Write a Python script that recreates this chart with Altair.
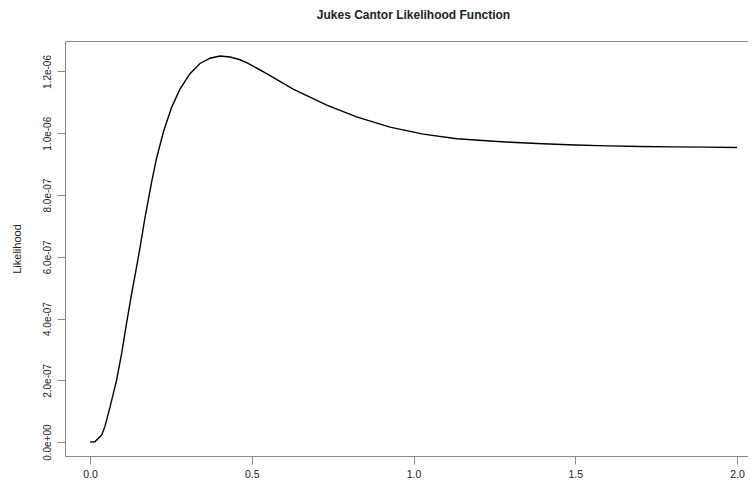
import altair as alt
import pandas as pd

# distance values (x) and likelihood values (in units of 1e-06)
dist = [0.0, 0.015, 0.036, 0.046, 0.062, 0.082, 0.098, 0.113, 0.129, 0.144,
        0.155, 0.170, 0.191, 0.206, 0.227, 0.252, 0.278, 0.309, 0.340, 0.371,
        0.402, 0.433, 0.464, 0.489, 0.546, 0.628, 0.732, 0.824, 0.927, 1.030,
        1.134, 1.236, 1.300, 1.400, 1.500, 1.600, 1.700, 1.800, 1.900, 2.000]
lik_e6 = [0.0, 0.001, 0.023, 0.050, 0.114, 0.200, 0.288, 0.385, 0.482, 0.567,
          0.632, 0.727, 0.845, 0.920, 1.005, 1.083, 1.143, 1.193, 1.226, 1.243,
          1.250, 1.247, 1.238, 1.226, 1.193, 1.143, 1.091, 1.053, 1.020, 0.997,
          0.982, 0.975, 0.971, 0.966, 0.962, 0.959, 0.957, 0.956, 0.955, 0.954]

x_ticks = [0.0, 0.5, 1.0, 1.5, 2.0]
y_ticks = [0.0, 2e-07, 4e-07, 6e-07, 8e-07, 1e-06, 1.2e-06]
y_tick_labels = ["0.0e+00", "2.0e-07", "4.0e-07", "6.0e-07", "8.0e-07", "1.0e-06", "1.2e-06"]

title_text = "Jukes Cantor Likelihood Function"
y_title = "Likelihood"

df = pd.DataFrame({"x": dist, "y": [v * 1e-6 for v in lik_e6]})

FONT = "Liberation Sans"
label_expr = "[" + ",".join("'%s'" % s for s in y_tick_labels) + "][round(datum.value / 2e-7)]"

xscale = alt.Scale(domain=[-0.0773, 2.0340], nice=False, zero=False)
yscale = alt.Scale(domain=[-4.5e-08, 1.2987e-06], nice=False, zero=False)

yaxis = alt.Axis(
    values=y_ticks, labelExpr=label_expr, labelAngle=270, labelAlign="center",
    labelBaseline="bottom", labelPadding=5, tickSize=8, grid=False,
    labelFont=FONT, labelFontSize=10, labelColor="#222",
    titleFont=FONT, titleFontSize=11, titleFontWeight="normal", titleColor="#222",
    titleAngle=270, titleX=-48, titleY=207.5, titleAlign="center", titleBaseline="middle",
)

line = alt.Chart(df).mark_line(color="black", strokeWidth=1.4).encode(
    x=alt.X("x:Q", scale=xscale, title=None,
            axis=alt.Axis(values=x_ticks, format=".1f", tickSize=8, labelPadding=5,
                          grid=False, labelFont=FONT, labelFontSize=10.5,
                          labelColor="#222", labelFlush=False)),
    y=alt.Y("y:Q", scale=yscale, title=y_title, axis=yaxis),
)

top = alt.Chart(df).mark_line(opacity=0).encode(
    x=alt.X("x:Q", scale=xscale, title=None,
            axis=alt.Axis(orient="top", labels=False, ticks=False, grid=False, domain=True)),
    y=alt.Y("y:Q", scale=yscale, title=y_title, axis=yaxis),
)

chart = alt.layer(line, top).resolve_axis(x="independent").properties(
    width=683, height=415,
    autosize=alt.AutoSizeParams(type="none"),
    padding={"left": 57, "top": 33, "right": 0, "bottom": 22},
    title=alt.TitleParams(title_text, font=FONT, fontSize=12, fontWeight="bold",
                          color="#222", anchor="middle", baseline="alphabetic",
                          offset=10, dx=7),
).configure_view(stroke=None).configure_axis(
    domainColor="#222", domainWidth=1.6, tickColor="#222", tickWidth=1.2,
).configure(background="white")

chart.save("out.html", embed_options={"renderer": "svg", "actions": False})
